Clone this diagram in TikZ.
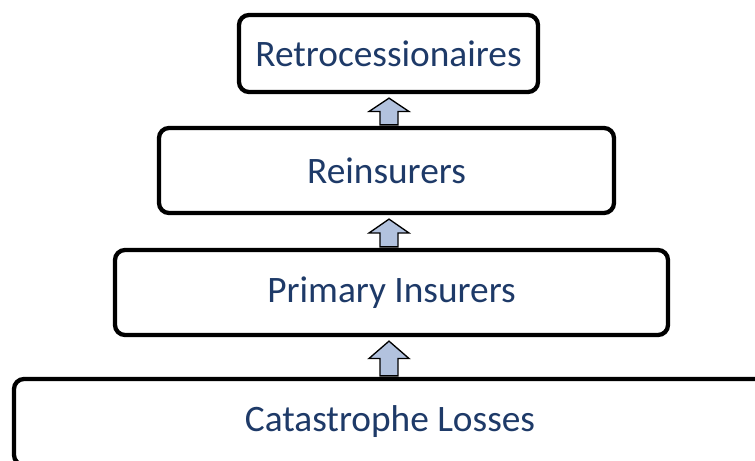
\documentclass[tikz,border=0pt]{standalone}
\usepackage{fontspec}
\setmainfont{Carlito}
\usepackage{tikz}
\usetikzlibrary{calc}
\usepackage{xcolor}
\definecolor{labelnavy}{RGB}{30,58,104}
\definecolor{liftblue}{RGB}{178,194,222}

% block arrow from the top of one box up to the bottom of the next
\newcommand{\liftarrow}[2]{%
  \coordinate (lb) at ($(#1.north -| axis)+(0,1)$);
  \coordinate (lt) at ($(#2.south -| axis)+(0,-4)$);
  \coordinate (lm) at ($(lb)!0.5!(lt)$);
  \draw[lift] ($(lb)+(-9,0)$) -- ($(lm)+(-9,0)$) -- ($(lm)+(-20,0)$) -- (lt)
    -- ($(lm)+(20,0)$) -- ($(lm)+(9,0)$) -- ($(lb)+(9,0)$) -- cycle;
}

\begin{document}
\begin{tikzpicture}[
    x=0.75pt, y=0.75pt,
    tier/.style={rectangle, draw, line width=3.2pt, rounded corners=7.5pt, fill=white,
      text=labelnavy, font=\fontsize{28}{33}\selectfont, inner sep=0pt, align=center},
    lift/.style={draw, line width=1pt, fill=liftblue, line join=miter}
]
\useasboundingbox (0,0) rectangle (755,460);
\clip (0,0) rectangle (755,460);

\coordinate (axis) at (389,0);

% Tiers (sizes in pt, 1px = 0.75pt)
\node[tier, minimum width=224.25pt, minimum height=57.75pt] (retro) at (388.5,406.5) {Retrocessionaires};
\node[tier, minimum width=341.25pt, minimum height=63.75pt] (reins) at (386.5,289.5) {Reinsurers};
\node[tier, minimum width=414.75pt, minimum height=63.75pt] (primary) at (391.5,167.5) {Primary Insurers};
\node[tier, minimum width=564pt, minimum height=64.5pt] (losses) at (390,38) {Catastrophe Losses};

% Arrows
\liftarrow{losses}{primary}
\liftarrow{primary}{reins}
\liftarrow{reins}{retro}

\end{tikzpicture}
\end{document}
